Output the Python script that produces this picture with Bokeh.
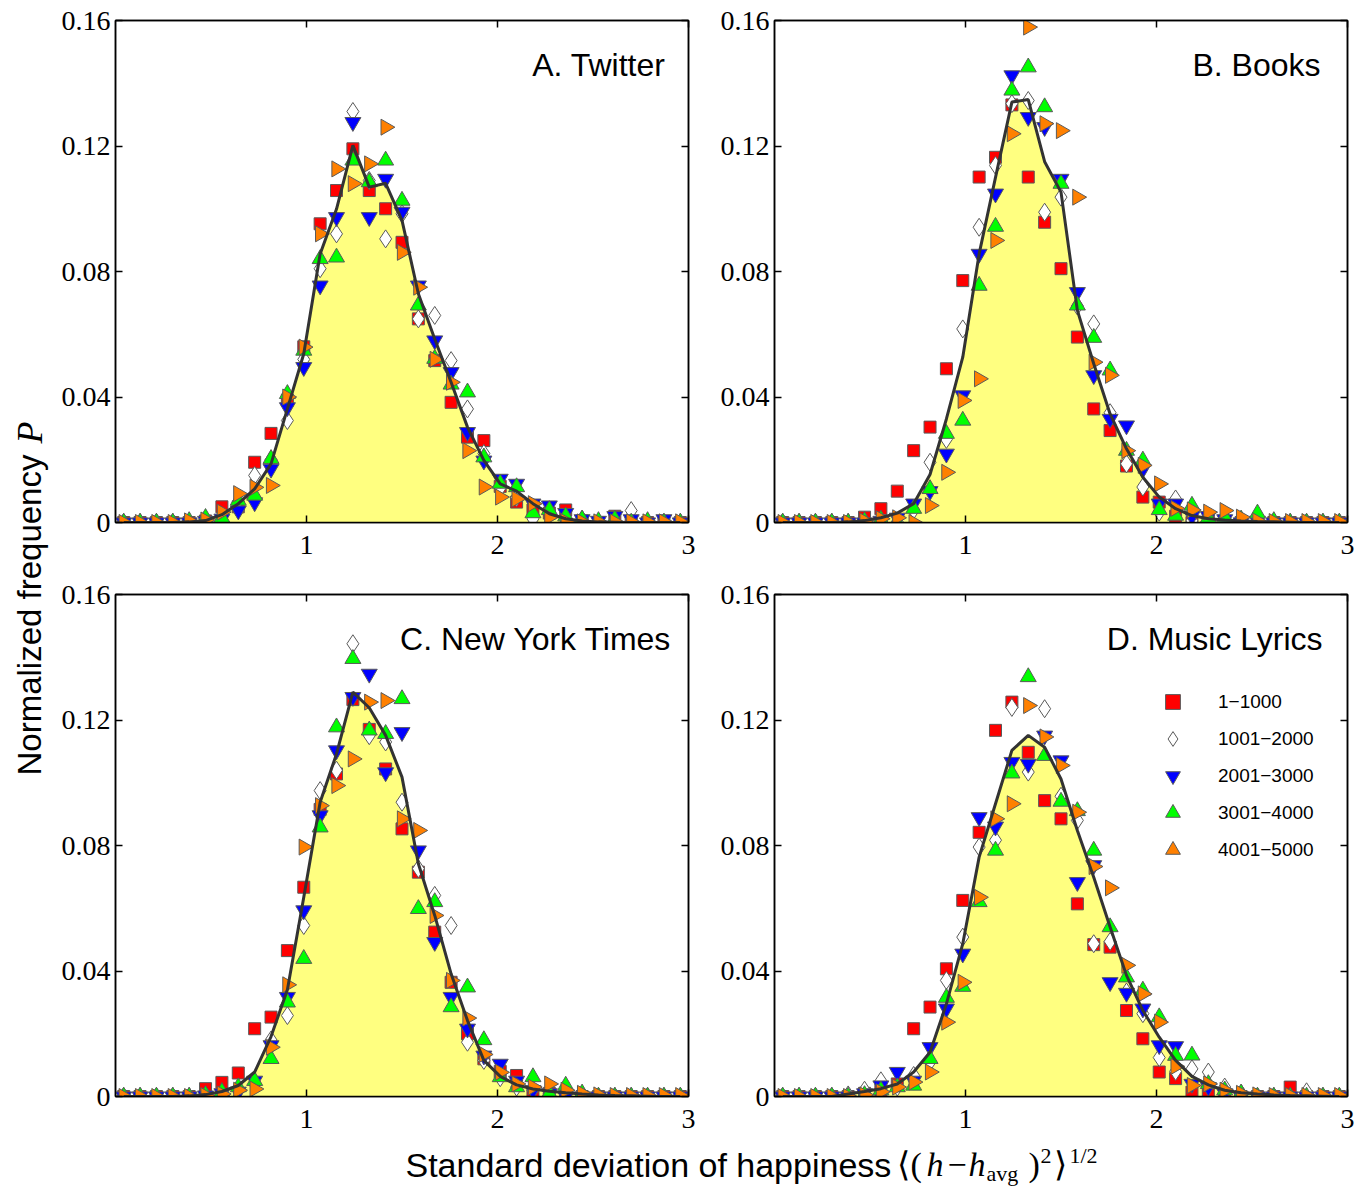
import numpy as np
from bokeh.plotting import figure
from bokeh.layouts import row, column
from bokeh.models import (Range1d, LinearAxis, FixedTicker, CustomJSTickFormatter,
                          Label, Legend, LegendItem)
from bokeh.embed import file_html
from bokeh.resources import INLINE

# ---------------- data ----------------
# bin centres of the standard deviation of happiness
sd_bins = [0.0429, 0.1286, 0.2143, 0.3000, 0.3857, 0.4714, 0.5571, 0.6429, 0.7286,
           0.8143, 0.9000, 0.9857, 1.0714, 1.1571, 1.2429, 1.3286, 1.4143, 1.5000,
           1.5857, 1.6714, 1.7571, 1.8429, 1.9286, 2.0143, 2.1000, 2.1857, 2.2714,
           2.3571, 2.4429, 2.5286, 2.6143, 2.7000, 2.7857, 2.8714, 2.9571]

rank_labels = ["1\u22121000", "1001\u22122000", "2001\u22123000", "3001\u22124000", "4001\u22125000"]
panel_titles = ["A. Twitter", "B. Books", "C. New York Times", "D. Music Lyrics"]

# A. Twitter
tw_all = [0, 0, 0, 0, 0.0002, 0.0006, 0.0025, 0.006, 0.0107, 0.0187, 0.0362, 0.0538, 0.0856, 0.0999,
          0.1202, 0.1069, 0.1081, 0.0963, 0.0729, 0.0585, 0.0447, 0.0304, 0.0198, 0.0123, 0.0100,
          0.006, 0.0028, 0.0012, 0.0005, 0.0002, 0.0001, 0, 0, 0, 0]
tw_r1 = [0, 0, 0, 0, 0, 0.0005, 0.0050, 0.0050, 0.0192, 0.0284, 0.0390, 0.0560, 0.0952, 0.1058,
         0.1191, 0.1058, 0.1000, 0.0893, 0.0649, 0.0516, 0.0383, 0.0272, 0.0261, 0.0115, 0.0065,
         0.0040, 0.0030, 0.0040, 0.0005, 0, 0.0020, 0, 0, 0, 0]
tw_r2 = [0, 0, 0, 0, 0, 0.0002, 0.0010, 0.0040, 0.0150, 0.0200, 0.0325, 0.0520, 0.0809, 0.0920,
         0.1310, 0.1090, 0.0904, 0.0984, 0.0649, 0.0660, 0.0516, 0.0362, 0.0220, 0.0110, 0.0080,
         0.0012, 0.0040, 0, 0.0010, 0, 0.0005, 0.0038, 0, 0, 0]
tw_r3 = [0, 0, 0, 0, 0, 0.0005, 0.0012, 0.0038, 0.0064, 0.0171, 0.0367, 0.0495, 0.0755, 0.0973,
         0.1276, 0.0973, 0.1095, 0.0990, 0.0755, 0.0580, 0.0479, 0.0288, 0.0197, 0.0139, 0.0123,
         0.0060, 0.0054, 0.0030, 0.0010, 0.0005, 0.0020, 0.0010, 0, 0.0010, 0]
tw_r4 = [0, 0, 0, 0, 0.0005, 0.0015, 0.0015, 0.0070, 0.0086, 0.0203, 0.0410, 0.0548, 0.0840, 0.0845,
         0.1154, 0.1085, 0.1154, 0.1026, 0.0692, 0.0522, 0.0440, 0.0415, 0.0208, 0.0124, 0.0113,
         0.0030, 0.0040, 0.0020, 0.0010, 0.0005, 0.0010, 0, 0.0005, 0, 0]
tw_r5 = [0, 0, 0, 0, 0.0005, 0.0008, 0.0033, 0.0092, 0.0112, 0.0118, 0.0400, 0.0559, 0.0920, 0.1127,
         0.1080, 0.1143, 0.1260, 0.0861, 0.0750, 0.0520, 0.0447, 0.0229, 0.0113, 0.0081, 0.0075,
         0.0060, 0.0017, 0.0003, 0.0002, 0.0002, 0.0002, 0.0002, 0.0002, 0.0002, 0.0002]

# B. Books
bk_all = [0, 0, 0, 0, 0.0002, 0.0006, 0.0015, 0.0030, 0.0060, 0.0153, 0.0330, 0.0527, 0.0856, 0.1100,
          0.1340, 0.1348, 0.1150, 0.1053, 0.0676, 0.0506, 0.0346, 0.0235, 0.0144, 0.0081, 0.0044,
          0.0022, 0.0012, 0.0008, 0.0005, 0.0003, 0.0002, 0.0001, 0, 0, 0]
bk_r1 = [0, 0, 0, 0, 0, 0.0017, 0.0044, 0.0100, 0.0229, 0.0304, 0.0490, 0.0771, 0.1101, 0.1164,
         0.1331, 0.1101, 0.0957, 0.0809, 0.0591, 0.0362, 0.0293, 0.0180, 0.0081, 0.0065, 0.0020,
         0, 0.0006, 0, 0, 0, 0, 0, 0, 0, 0]
bk_r2 = [0, 0, 0, 0, 0, 0, 0.0005, 0.0002, 0.0040, 0.0192, 0.0265, 0.0617, 0.0941, 0.1138,
         0.1335, 0.1345, 0.0989, 0.1037, 0.0690, 0.0633, 0.0350, 0.0187, 0.0113, 0.0033, 0.0075,
         0.0005, 0, 0, 0, 0, 0, 0, 0, 0, 0]
bk_r3 = [0, 0, 0, 0, 0, 0, 0.0005, 0.0015, 0.0060, 0.0100, 0.0219, 0.0405, 0.0856, 0.1048,
         0.1425, 0.1292, 0.1260, 0.1095, 0.0734, 0.0469, 0.0330, 0.0309, 0.0170, 0.0060, 0.0060,
         0.0020, 0.0020, 0.0010, 0, 0.0005, 0, 0, 0, 0, 0]
bk_r4 = [0, 0, 0, 0, 0, 0.0005, 0.0010, 0, 0.0044, 0.0107, 0.0283, 0.0325, 0.0755, 0.0943,
         0.1377, 0.1451, 0.1324, 0.1080, 0.0692, 0.0589, 0.0485, 0.0229, 0.0198, 0.0040, 0.0022,
         0.0054, 0.0015, 0.0017, 0.0010, 0.0029, 0.0005, 0, 0, 0, 0]
bk_r5 = [0, 0, 0, 0, 0, 0.0005, 0.0012, 0.0015, 0, 0.0054, 0.0160, 0.0389, 0.0458, 0.0899,
         0.1239, 0.1579, 0.1271, 0.1249, 0.1037, 0.0511, 0.0469, 0.0229, 0.0182, 0.0123, 0.0045,
         0.0040, 0.0033, 0.0038, 0.0017, 0.0005, 0.0003, 0.0003, 0.0003, 0.0003, 0.0003]

# C. New York Times
ny_all = [0, 0, 0, 0, 0.0002, 0.0006, 0.0016, 0.0035, 0.0078, 0.0191, 0.0340, 0.0635, 0.0938, 0.1092,
          0.1289, 0.1239, 0.1151, 0.1018, 0.0742, 0.0577, 0.0391, 0.0242, 0.0115, 0.0064, 0.0037,
          0.0024, 0.0017, 0.0012, 0.0008, 0.0005, 0.0003, 0.0002, 0.0001, 0, 0]
ny_r1 = [0, 0, 0, 0, 0, 0.0025, 0.0045, 0.0075, 0.0216, 0.0253, 0.0465, 0.0667, 0.0915, 0.1028,
         0.1265, 0.1170, 0.1044, 0.0853, 0.0715, 0.0524, 0.0364, 0.0200, 0.0120, 0.0080, 0.0067,
         0.0013, 0.0010, 0, 0, 0, 0, 0, 0, 0, 0]
ny_r2 = [0, 0, 0, 0, 0, 0.0005, 0.0010, 0.0020, 0.0040, 0.0180, 0.0258, 0.0545, 0.0975, 0.1040,
         0.1443, 0.1150, 0.1130, 0.0938, 0.0726, 0.0641, 0.0545, 0.0173, 0.0115, 0.0060, 0.0030,
         0.0020, 0.0010, 0, 0, 0, 0, 0, 0, 0, 0]
ny_r3 = [0, 0, 0, 0, 0, 0.0003, 0.0010, 0.0015, 0.0050, 0.0163, 0.0317, 0.0593, 0.0896, 0.1103,
         0.1273, 0.1347, 0.1033, 0.1161, 0.0784, 0.0492, 0.0317, 0.0216, 0.0130, 0.0104, 0.0050,
         0.0020, 0.0010, 0, 0, 0, 0, 0, 0, 0, 0]
ny_r4 = [0, 0, 0, 0, 0, 0.0005, 0.0015, 0.0030, 0.0050, 0.0120, 0.0300, 0.0439, 0.0858, 0.1177,
         0.1395, 0.1167, 0.1156, 0.1267, 0.0598, 0.0620, 0.0285, 0.0348, 0.0180, 0.0062, 0.0030,
         0.0062, 0.0010, 0.0035, 0.0010, 0, 0, 0, 0, 0, 0]
ny_r5 = [0, 0, 0, 0, 0, 0.0003, 0.0008, 0.0020, 0.0024, 0.0157, 0.0356, 0.0795, 0.0927, 0.0991,
         0.1076, 0.1257, 0.1262, 0.0885, 0.0848, 0.0577, 0.0370, 0.0250, 0.0134, 0.0077, 0.0040,
         0.0030, 0.0040, 0.0020, 0.0010, 0.0005, 0.0003, 0.0003, 0.0003, 0.0003, 0.0003]

# D. Music Lyrics
ml_all = [0, 0, 0, 0, 0.0008, 0.0016, 0.0025, 0.0040, 0.0078, 0.0141, 0.0295, 0.0487, 0.0763, 0.0933,
          0.1103, 0.1151, 0.1113, 0.1012, 0.0848, 0.0699, 0.0540, 0.0386, 0.0274, 0.0189, 0.0115,
          0.0064, 0.0037, 0.0020, 0.0012, 0.0008, 0.0005, 0.0003, 0.0002, 0.0001, 0]
ml_r1 = [0, 0, 0, 0, 0, 0.0010, 0.0020, 0.0040, 0.0216, 0.0285, 0.0407, 0.0625, 0.0842, 0.1167,
         0.1257, 0.1097, 0.0943, 0.0885, 0.0614, 0.0484, 0.0476, 0.0274, 0.0184, 0.0078, 0.0057,
         0.0014, 0.0010, 0, 0, 0, 0, 0.0030, 0, 0, 0]
ml_r2 = [0, 0, 0, 0, 0.0005, 0.0020, 0.0050, 0.0030, 0.0067, 0.0110, 0.0370, 0.0508, 0.0795, 0.0817,
         0.1240, 0.1034, 0.1236, 0.0957, 0.0880, 0.0487, 0.0494, 0.0333, 0.0264, 0.0124, 0.0080,
         0.0088, 0.0078, 0.0030, 0.0010, 0, 0, 0, 0.0015, 0, 0]
ml_r3 = [0, 0, 0, 0, 0, 0.0010, 0.0035, 0.0078, 0.0050, 0.0157, 0.0280, 0.0455, 0.0890, 0.0860,
         0.1066, 0.1060, 0.1150, 0.1071, 0.0683, 0.0737, 0.0364, 0.0330, 0.0280, 0.0163, 0.0160,
         0.0040, 0.0030, 0.0010, 0, 0, 0, 0, 0, 0, 0]
ml_r4 = [0, 0, 0, 0, 0, 0.0005, 0.0020, 0.0030, 0.0035, 0.0120, 0.0315, 0.0350, 0.0620, 0.0784,
         0.1030, 0.1337, 0.1086, 0.0940, 0.0910, 0.0784, 0.0540, 0.0380, 0.0338, 0.0253, 0.0130,
         0.0131, 0.0040, 0.0020, 0.0010, 0, 0, 0, 0, 0, 0]
ml_r5 = [0, 0, 0, 0, 0, 0.0005, 0.0015, 0.0030, 0.0046, 0.0078, 0.0237, 0.0364, 0.0635, 0.0885,
         0.0933, 0.1246, 0.1146, 0.1055, 0.0906, 0.0733, 0.0665, 0.0418, 0.0327, 0.0237, 0.0096,
         0.0035, 0.0040, 0.0020, 0.0010, 0.0005, 0.0003, 0.0003, 0.0003, 0.0003, 0.0003]

y_ticks = [0, 0.04, 0.08, 0.12, 0.16]
x_ticks = [1, 2, 3]

# ---------------- style ----------------
FW, FH = 573, 502
SANS = "Liberation Sans"
SERIF = "Liberation Serif"
MARKERS = [("square", "#FF0000", 12, 0.0),
           ("diamond", "#FFFFFF", 18, 0.0),
           ("inverted_triangle", "#0000FF", 16, 0.0),
           ("triangle", "#00FF00", 16, 0.0),
           ("triangle", "#FF8000", 16, -np.pi / 2)]


def add_axes(p):
    fmt_y = CustomJSTickFormatter(code="return tick == 0 ? '0' : tick.toFixed(2);")
    specs = [("below", x_ticks, None, True), ("left", y_ticks, fmt_y, True),
             ("above", x_ticks, None, False), ("right", y_ticks, None, False)]
    for loc, ticks, fmt, labelled in specs:
        ax = LinearAxis(ticker=FixedTicker(ticks=ticks))
        if fmt is not None:
            ax.formatter = fmt
        ax.axis_line_color = "black"
        ax.axis_line_width = 1.5
        ax.major_tick_in = 7
        ax.major_tick_out = 0
        ax.major_tick_line_width = 1.5
        ax.minor_tick_line_color = None
        if labelled:
            ax.major_label_text_font = SERIF
            ax.major_label_text_font_size = "28px"
            ax.major_label_text_color = "black"
            ax.major_label_standoff = 13 if loc == "below" else 5
        else:
            ax.major_label_text_color = None
            ax.major_label_text_font_size = "0px"
            ax.major_label_standoff = 0
        p.add_layout(ax, loc)


def make_panel(title, line_vals, series, borders, inset, with_legend=False):
    left, right, top, bottom = borders
    p = figure(frame_width=FW, frame_height=FH, x_range=Range1d(0, 3), y_range=Range1d(0, 0.16),
               output_backend="svg", toolbar_location=None, x_axis_type=None, y_axis_type=None,
               min_border_left=left, min_border_right=right, min_border_top=top,
               min_border_bottom=bottom)
    p.outline_line_color = "black"
    p.outline_line_width = 1.5
    p.background_fill_color = "white"
    p.border_fill_color = "white"
    add_axes(p)
    p.varea(x=sd_bins, y1=0, y2=line_vals, fill_color="#FFFF80", fill_alpha=1.0)
    rends = []
    for vals, (mk, col, sz, ang) in zip(series, MARKERS):
        r = p.scatter(x=sd_bins, y=vals, marker=mk, size=sz, angle=ang, fill_color=col,
                      line_color="#5a5a5a", line_width=1)
        rends.append(r)
    p.line(x=sd_bins, y=line_vals, line_color="#333333", line_width=3)
    p.add_layout(Label(x=FW - inset, y=FH - 44, x_units="screen", y_units="screen", text=title,
                       text_align="right", text_baseline="middle", text_font=SANS,
                       text_font_size="32px", text_color="black"))
    if with_legend:
        items = [LegendItem(label=lab, renderers=[r]) for lab, r in zip(rank_labels, rends)]
        leg = Legend(items=items, location=(380, 228), orientation="vertical",
                     border_line_color=None, background_fill_alpha=0.0,
                     glyph_width=37, glyph_height=37, spacing=0, padding=0, margin=0,
                     label_standoff=27, label_height=20, label_text_font=SANS,
                     label_text_font_size="19px", label_text_color="black")
        p.add_layout(leg)
    return p


pA = make_panel(panel_titles[0], tw_all, [tw_r1, tw_r2, tw_r3, tw_r4, tw_r5], (62, 24, 20, 46), 23)
pB = make_panel(panel_titles[1], bk_all, [bk_r1, bk_r2, bk_r3, bk_r4, bk_r5], (62, 11, 20, 46), 27)
pC = make_panel(panel_titles[2], ny_all, [ny_r1, ny_r2, ny_r3, ny_r4, ny_r5], (62, 24, 26, 46), 17)
pD = make_panel(panel_titles[3], ml_all, [ml_r1, ml_r2, ml_r3, ml_r4, ml_r5], (62, 11, 26, 46), 25,
                with_legend=True)

# ----- shared y label -----
YH = 568 + 574 + 44
ylab = figure(width=53, height=YH, x_range=Range1d(0, 53), y_range=Range1d(0, YH),
              output_backend="svg", toolbar_location=None, x_axis_type=None, y_axis_type=None,
              min_border=0)
ylab.outline_line_color = None
ylab.add_layout(Label(x=29, y=YH - 775, x_units="screen", y_units="screen",
                      text="Normalized frequency", angle=np.pi / 2, text_align="left",
                      text_baseline="middle", text_font=SANS, text_font_size="33px",
                      text_color="black"))
ylab.add_layout(Label(x=29, y=YH - 443, x_units="screen", y_units="screen", text="P",
                      angle=np.pi / 2, text_align="left", text_baseline="middle",
                      text_font=SERIF, text_font_style="italic", text_font_size="36px",
                      text_color="black"))

# ----- shared x label -----
XW = 1305
XH = 44
xlab = figure(width=XW, height=XH, x_range=Range1d(0, XW), y_range=Range1d(0, XH),
              output_backend="svg", toolbar_location=None, x_axis_type=None, y_axis_type=None,
              min_border=0)
xlab.outline_line_color = None
OX = 53
xlab.add_layout(Label(x=405 - OX, y=22, x_units="screen", y_units="screen",
                      text="Standard deviation of happiness", text_font=SANS,
                      text_font_size="34px", text_color="black", text_baseline="middle"))
math_parts = [("\u27e8", 896, 22, "34px", "normal"), ("(", 910, 22, "34px", "normal"),
              ("h", 926, 22, "34px", "italic"), ("\u2212", 947, 22, "34px", "normal"),
              ("h", 968, 22, "34px", "italic"), ("avg", 986, 13, "22px", "normal"),
              (")", 1028, 22, "34px", "normal"), ("2", 1040, 31, "22px", "normal"),
              ("\u27e9", 1053, 22, "34px", "normal"), ("1/2", 1069, 31, "22px", "normal")]
for txt, px, py, fs, st in math_parts:
    xlab.add_layout(Label(x=px - OX, y=py, x_units="screen", y_units="screen", text=txt,
                          text_font=SERIF, text_font_style=st, text_font_size=fs,
                          text_color="black", text_baseline="middle"))

layout = row(ylab, column(row(pA, pB), row(pC, pD), xlab))

with open("out.html", "w") as f:
    f.write(file_html(layout, INLINE))
